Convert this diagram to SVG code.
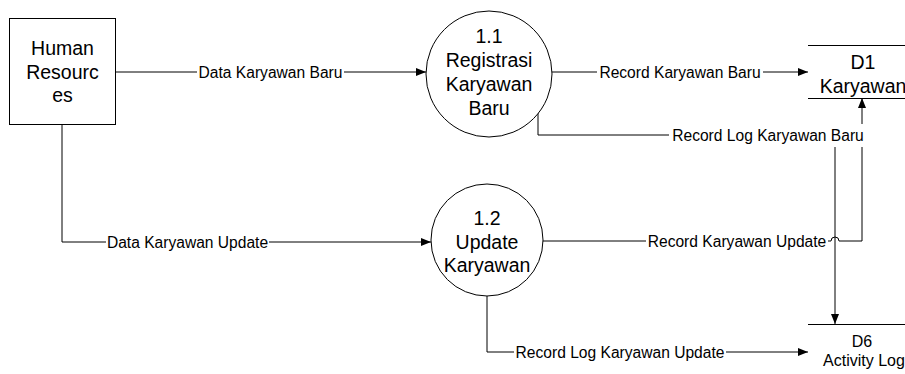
<svg xmlns="http://www.w3.org/2000/svg" width="905" height="374" viewBox="0 0 905 374">
  <defs>
    <marker id="arrow" markerWidth="10" markerHeight="8" refX="10" refY="4" orient="auto" markerUnits="userSpaceOnUse">
      <path d="M0,0 L10,4 L0,8 z" fill="#000"/>
    </marker>
    <style>
      .shape { fill: #fff; stroke: #000; stroke-width: 1; }
      .line { fill: none; stroke: #000; stroke-width: 1; }
      .flow { fill: none; stroke: #000; stroke-width: 1; marker-end: url(#arrow); }
      .node { font-family: "Liberation Sans", Arial, sans-serif; font-size: 19.5px; fill: #000; text-anchor: middle; }
      .small { font-family: "Liberation Sans", Arial, sans-serif; font-size: 16px; fill: #000; text-anchor: middle; }
      .label { font-family: "Liberation Sans", Arial, sans-serif; font-size: 15.6px; fill: #000; text-anchor: middle; }
      .bg { fill: #fff; stroke: none; }
    </style>
  </defs>
  <rect width="905" height="374" fill="#fff"/>

  <g id="connectors">
    <!-- Human Resources -> 1.1 -->
    <path class="flow" d="M116,72 H426"/>
    <!-- Human Resources -> 1.2 -->
    <path class="flow" d="M62,124 V242 H431"/>
    <!-- 1.1 -> D1 -->
    <path class="flow" d="M552,72 H808"/>
    <!-- 1.1 -> D6 -->
    <path class="flow" d="M538,113 V135 H835 V324"/>
    <!-- 1.2 -> D1 (hops over the D6 line) -->
    <path class="flow" d="M543,241 H831 A4,4 0 0 1 839,241 H862 V98"/>
    <!-- 1.2 -> D6 -->
    <path class="flow" d="M487,296 V352 H808"/>

    <g id="labels">
      <rect class="bg" x="197" y="62" width="147" height="20"/>
      <text class="label" x="270.5" y="77.5">Data Karyawan Baru</text>

      <rect class="bg" x="106" y="232" width="163" height="20"/>
      <text class="label" x="187.5" y="247.5">Data Karyawan Update</text>

      <rect class="bg" x="597" y="62" width="166" height="20"/>
      <text class="label" x="680" y="77.5">Record Karyawan Baru</text>

      <rect class="bg" x="669" y="124" width="198" height="23"/>
      <text class="label" x="768" y="140.5">Record Log Karyawan Baru</text>

      <rect class="bg" x="646" y="231" width="182" height="20"/>
      <text class="label" x="737" y="246.5">Record Karyawan Update</text>

      <rect class="bg" x="514" y="342" width="212" height="20"/>
      <text class="label" x="620" y="357.5">Record Log Karyawan Update</text>
    </g>
  </g>

  <g id="human-resources">
    <rect class="shape" x="9.5" y="18.5" width="106" height="106"/>
    <text class="node" x="62.5" y="55">Human</text>
    <text class="node" x="62.5" y="79">Resourc</text>
    <text class="node" x="62.5" y="102">es</text>
  </g>

  <g id="process-1-1">
    <circle class="shape" cx="489" cy="74" r="63"/>
    <text class="node" x="489" y="43">1.1</text>
    <text class="node" x="489" y="67">Registrasi</text>
    <text class="node" x="489" y="91">Karyawan</text>
    <text class="node" x="489" y="115">Baru</text>
  </g>

  <g id="process-1-2">
    <circle class="shape" cx="487" cy="240" r="56"/>
    <text class="node" x="487" y="225">1.2</text>
    <text class="node" x="487" y="248.5">Update</text>
    <text class="node" x="487" y="272">Karyawan</text>
  </g>

  <g id="store-d1">
    <path class="line" d="M808,45.5 H905 M808,98.5 H905"/>
    <text class="node" x="863" y="69">D1</text>
    <text class="node" x="863" y="93">Karyawan</text>
  </g>

  <g id="store-d6">
    <path class="line" d="M808,324.5 H905"/>
    <text class="small" x="862" y="347">D6</text>
    <text class="small" x="864" y="366">Activity Log</text>
  </g>
</svg>
